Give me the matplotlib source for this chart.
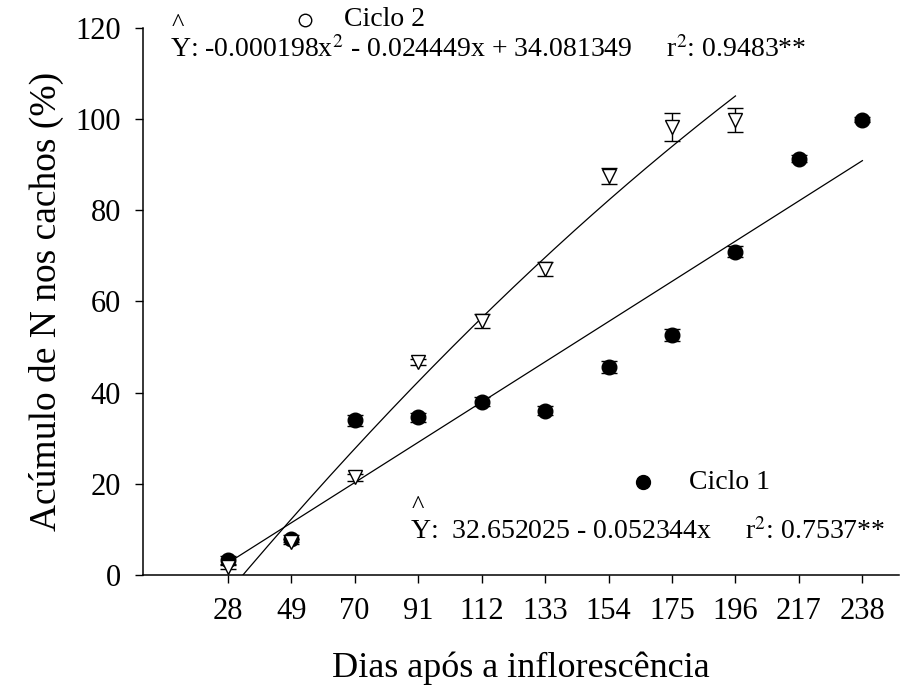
import matplotlib
matplotlib.use('Agg')
import matplotlib.pyplot as plt
import numpy as np

plt.rcParams['font.family'] = ['Liberation Serif', 'DejaVu Serif']
plt.rcParams['mathtext.fontset'] = 'stix'

# Days after flowering
dias = [28, 49, 70, 91, 112, 133, 154, 175, 196, 217, 238]

# Ciclo 1 (filled circles)
x1 = dias
y1 = [3.3, 8.0, 33.9, 34.6, 38.0, 36.0, 45.6, 52.7, 70.9, 91.3, 99.9]
e1 = [0.8, 0.8, 1.2, 1.0, 1.0, 1.0, 1.3, 1.3, 1.2, 0.8, 0.6]

# Ciclo 2 (open triangles)
x2 = dias[:9]
y2 = [1.8, 7.3, 21.4, 46.7, 55.7, 67.1, 87.5, 98.3, 99.8]
e2 = [0.5, 0.5, 0.8, 0.7, 1.5, 1.5, 1.8, 3.0, 2.6]

eq1 = r'Y:  32.652025 - 0.052344x     r$^2$: 0.7537**'
eq2 = r'Y: -0.000198x$^2$ - 0.024449x + 34.081349     r$^2$: 0.9483**'

fig = plt.figure(figsize=(9.17, 6.97), dpi=100)
ax = fig.add_axes([0.156, 0.175, 0.824, 0.785])

# fitted curves
p1 = np.polyfit(x1, y1, 1)
xf1 = np.linspace(x1[0], x1[-1], 200)
ax.plot(xf1, np.polyval(p1, xf1), 'k-', lw=0.9)
p2 = np.polyfit(x2, y2, 2)
xf2 = np.linspace(x2[0], x2[-1], 200)
ax.plot(xf2, np.polyval(p2, xf2), 'k-', lw=0.9)

ax.errorbar(x1, y1, yerr=e1, fmt='o', color='k', ms=10.5, capsize=6,
            elinewidth=1.0, capthick=1.0, zorder=3)
ax.errorbar(x2, y2, yerr=e2, fmt='v', color='k', mfc='white', mec='k',
            ms=10.5, mew=1.0, capsize=6, elinewidth=1.0, capthick=1.0, zorder=4)

ax.set_xlim(0, 250)
ax.set_ylim(0, 120)
ax.set_xticks(dias)
ax.set_yticks(range(0, 121, 20))
ax.spines['top'].set_visible(False)
ax.spines['right'].set_visible(False)
for s in ['left', 'bottom']:
    ax.spines[s].set_linewidth(1.1)
ax.tick_params(direction='out', length=6, width=1.0, labelsize=22, pad=10)
ax.set_xlabel('Dias após a inflorescência', fontsize=26, labelpad=18)
ax.set_ylabel('Acúmulo de N nos cachos (%)', fontsize=27, labelpad=8)

# legend-like labels and equations
ax.plot([53.6], [121.8], 'o', mfc='white', mec='k', ms=9, mew=1.0, clip_on=False)
ax.text(66.5, 121.8, 'Ciclo 2', fontsize=20, va='center', ha='left')
ax.text(8.9, 115.2, eq2, fontsize=20, va='center', ha='left')
ax.text(11.4, 120.6, '^', fontsize=19, va='center', ha='center')

ax.plot([165.3], [20.4], 'o', color='k', ms=10, clip_on=False)
ax.text(180.5, 20.4, 'Ciclo 1', fontsize=20, va='center', ha='left')
ax.text(88.3, 9.6, eq1, fontsize=20, va='center', ha='left')
ax.text(90.8, 15.0, '^', fontsize=19, va='center', ha='center')

fig.savefig('out.png', dpi=100)
